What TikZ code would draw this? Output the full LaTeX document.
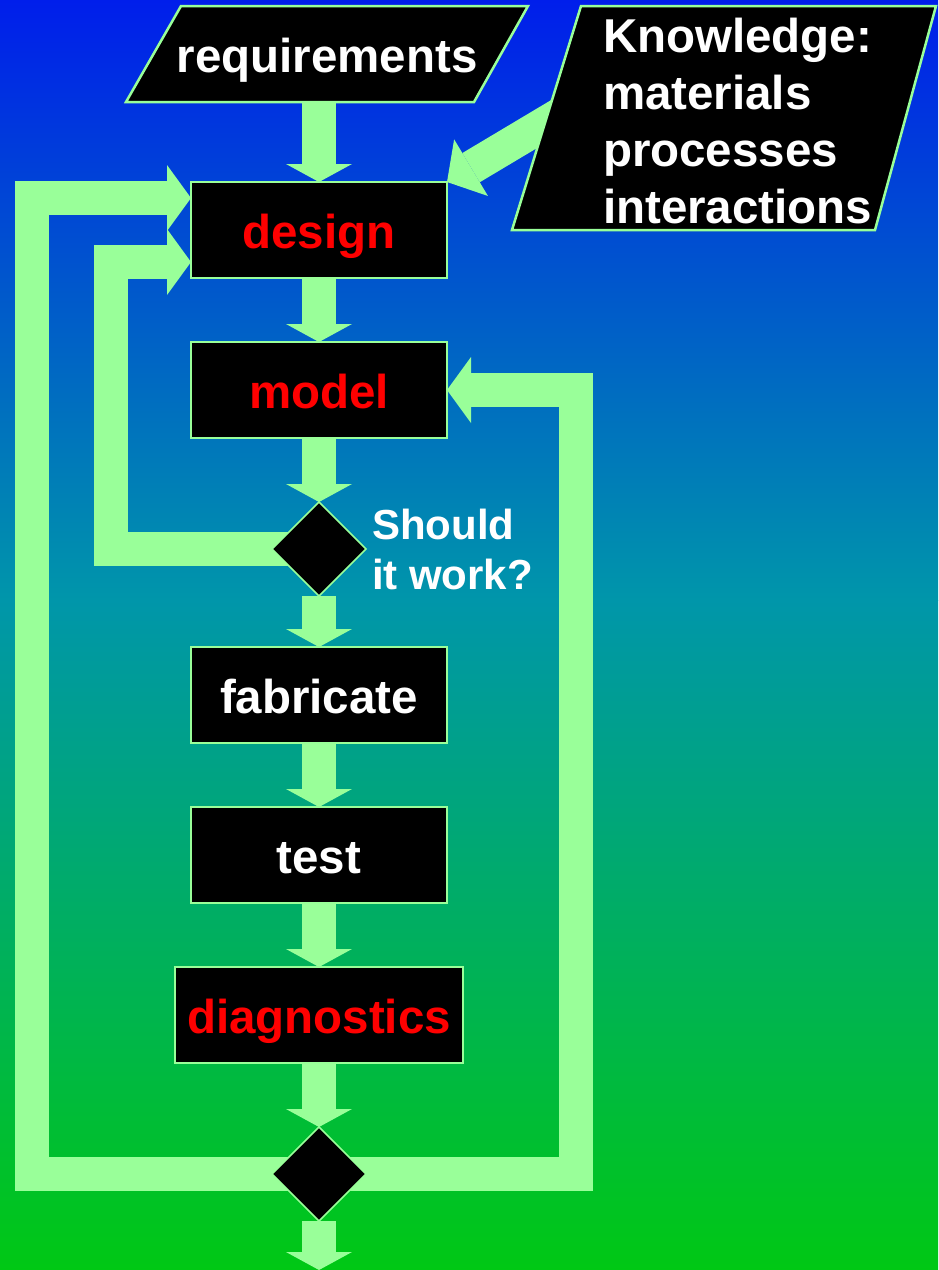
\documentclass[tikz,border=0pt]{standalone}
\usepackage{fontspec}
\setmainfont{Liberation Sans}
\usetikzlibrary{arrows.meta,positioning,shapes.geometric,backgrounds}

\definecolor{flowgreen}{RGB}{153,255,153}
\definecolor{bgtop}{RGB}{0,30,235}
\definecolor{bgmid}{RGB}{0,150,170}
\definecolor{bgbot}{RGB}{0,200,20}

\newcommand{\flowfont}{\fontsize{47.5}{57}\selectfont\bfseries}
\newcommand{\askfont}{\fontsize{42}{50}\selectfont\bfseries}

\tikzset{
  stage/.style={rectangle, fill=black, draw=flowgreen, line width=2.5pt,
    minimum width=256pt, minimum height=96pt, inner sep=0pt, outer sep=0pt,
    text height=38pt, text depth=2pt, font=\flowfont, text=white},
  hot/.style={stage, text=red},
  decide/.style={diamond, fill=black, draw=flowgreen, line width=1.5pt,
    minimum width=94pt, minimum height=94pt, inner sep=0pt, outer sep=0pt},
  flow/.style={draw=flowgreen, line width=34pt, line join=miter,
    -{Triangle[width=66pt, length=#1, line width=0pt]}},
  flow/.default=18pt,
  note/.style={text=white, font=\askfont, align=left, inner sep=6pt, outer sep=0pt},
  slab/.style={fill=black, draw=flowgreen, line width=2.5pt}
}

\begin{document}
\begin{tikzpicture}[x=1pt, y=-1pt, node distance=64pt]
  \useasboundingbox (0,0) rectangle (938,1270);

  % the chain down the middle
  \node[hot] (design) at (319,230) {design};
  \node[hot, below=of design] (model) {model};
  \node[decide, below=of model] (check) {};
  \node[note, right=0pt of check] (ask) {Should\\it work?};
  \node[stage, below=51pt of check] (fab) {fabricate};
  \node[stage, below=of fab] (test) {test};
  \node[hot, minimum width=288pt, below=of test] (diag) {diagnostics};
  \node[decide, below=of diag] (verdict) {};
  \coordinate (exit) at (319,1270);

  % inputs (their frames go on the background layer)
  \node[text=white, font=\flowfont, minimum height=96pt, inner sep=0pt,
    text height=38pt, text depth=2pt] (req) at (327,54) {requirements};
  \node[text=white, font=\flowfont, text width=275pt, align=left, inner sep=0pt] (know) at (740.5,121)
    {Knowledge:\\materials\\processes\\interactions};

  \begin{scope}[on background layer]
    % sky
    \fill[top color=bgtop, bottom color=bgmid] (0,0) rectangle (938,600);
    \fill[top color=bgmid, bottom color=bgbot] (0,600) rectangle (938,1270);

    % feedback loops
    \coordinate (outer) at (31.5,198);
    \coordinate (inner) at (111,262);
    \coordinate (back) at (576,390);
    \draw[flow=24pt] (verdict.center) -| (outer) -- ([yshift=32pt]design.west);
    \draw[flow=24pt] (check.center) -| (inner) -- ([yshift=-32pt]design.west);
    \draw[flow=24pt] (verdict.center) -| (back) -- (model.east);

    % main flow
    \draw[flow] (design.north |- req.south) -- (design.north);
    \foreach \a/\b in {design/model, model/check, check/fab, fab/test, test/diag, diag/verdict}
      \draw[flow] (\a.south) -- (\b.north);
    \draw[flow] (verdict.south) -- (exit);

    % knowledge feeds the design
    \coordinate (feed) at (576,105);
    \draw[flow=28pt] (feed) -- (design.north east);

    % parallelogram frames
    \filldraw[slab] (126,102) -- (474,102) -- (528,6) -- (181,6) -- cycle;
    \filldraw[slab] (512,230) -- (875,230) -- (936,6) -- (581,6) -- cycle;
  \end{scope}
\end{tikzpicture}
\end{document}
